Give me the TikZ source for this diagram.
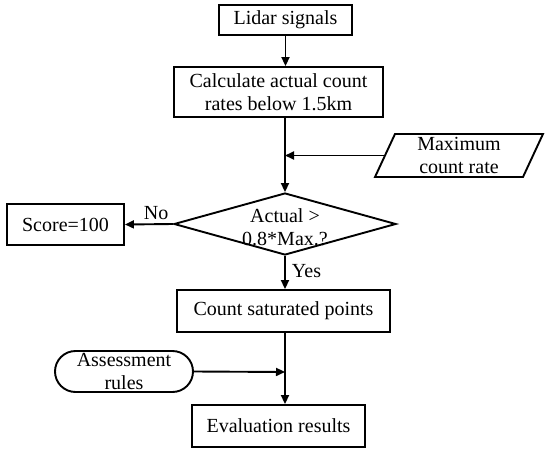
\documentclass[tikz,border=0pt]{standalone}
\usepackage{fontspec}
\setmainfont{Liberation Serif}
\usetikzlibrary{shapes.geometric,shapes.misc,arrows.meta,calc}
\begin{document}
\begin{tikzpicture}[x=1pt,y=-1pt,
  lw/.style={line width=1.9pt},
  arr/.style={lw,-{Triangle[length=9pt,width=8pt]}},
  txt/.style={font=\fontsize{20}{23}\selectfont},
  box/.style={draw,lw,rectangle,inner sep=0pt,align=center,txt},
  dia/.style={draw,lw,diamond,inner sep=0pt},
  rbox/.style={draw,lw,rounded rectangle,inner sep=0pt,align=center,txt},
  lbl/.style={inner sep=0pt,txt}]
\useasboundingbox (0,0) rectangle (550,453);
\node[box,minimum width=133pt,minimum height=30pt] (lidar) at (285.5,20) {Lidar signals};
\node[box,minimum width=209pt,minimum height=50pt] (calc) at (278.5,92) {Calculate actual count\\rates below 1.5km};
\node[lbl,align=center] (maxr) at (459,155.5) {Maximum\\count rate};
\draw[lw] ($(maxr)+(-84,21.5)$) -- ($(maxr)+(-64,-21.5)$) -- ($(maxr)+(84,-21.5)$) -- ($(maxr)+(64,21.5)$) -- cycle;
\coordinate (mw) at ($(maxr)+(-74,0)$);
\node[dia,minimum width=222pt,minimum height=62pt] (dec) at (285,224) {};
\node[lbl,align=center] (dect) at (285,227) {Actual >\\0.8*Max.?};
\node[box,minimum width=117pt,minimum height=41pt] (score) at (65.5,224.5) {Score=100};
\node[box,minimum width=213pt,minimum height=42pt] (count) at (283.5,311) {Count saturated points};
\node[rbox,minimum width=138pt,minimum height=41pt] (assess) at (124,371.5) {Assessment\\rules};
\node[box,minimum width=173pt,minimum height=42pt] (eval) at (278.5,426) {Evaluation results};
\coordinate (j1) at (285,155.5);
\coordinate (j2) at (285,372);
\draw[arr] (lidar.south) -- (lidar.south |- calc.north);
\draw[arr] (calc.south -| j1) -- (dec.north);
\draw[arr] (mw) -- (j1);
\draw[arr] (dec.west) -- (score.east) node[lbl,pos=0.35,above=4pt] (no) {No};
\draw[arr] (dec.south) -- (count.north -| dec.south) node[lbl,pos=0.45,right=6pt] (yes) {Yes};
\draw[arr] (count.south -| j2) -- (eval.north -| j2);
\draw[arr] (assess.east) -- (j2);
\end{tikzpicture}
\end{document}
